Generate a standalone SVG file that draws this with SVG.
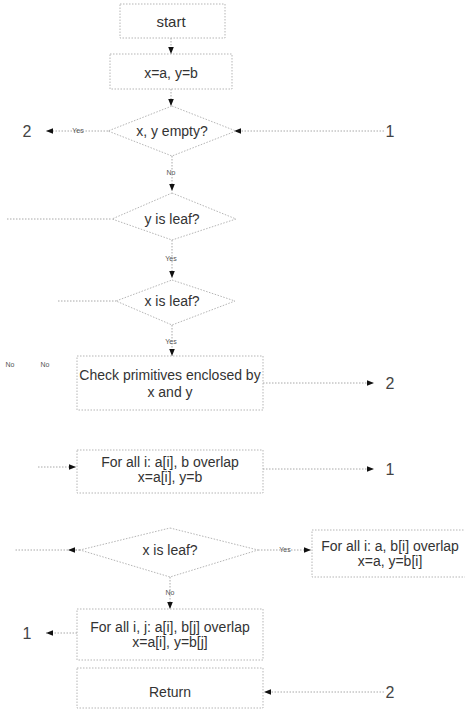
<svg xmlns="http://www.w3.org/2000/svg" width="465" height="711" viewBox="0 0 465 711">
<defs>
<marker id="ah" viewBox="0 0 10 10" refX="10" refY="5" markerWidth="7" markerHeight="7" orient="auto" markerUnits="userSpaceOnUse">
<path d="M0,1 L10,5 L0,9 Z" fill="#111"/>
</marker>
</defs>
<style>
.b{fill:none;stroke:#b5b5b5;stroke-width:1;stroke-dasharray:1.5 1.5}
.c{fill:none;stroke:#a8a8a8;stroke-width:1;stroke-dasharray:1.5 1.5}
.t{font-family:"Liberation Sans",Arial,sans-serif;font-size:14px;fill:#333;text-anchor:middle}
.n{font-family:"Liberation Sans",Arial,sans-serif;font-size:16px;fill:#444;text-anchor:middle}
.s{font-family:"Liberation Sans",Arial,sans-serif;font-size:7px;fill:#555;text-anchor:middle}
</style>
<rect width="465" height="711" fill="#fff"/>
<g id="connectors">
<line class="c" x1="171" y1="38" x2="171" y2="54" marker-end="url(#ah)"/>
<line class="c" x1="171" y1="89" x2="171" y2="106" marker-end="url(#ah)"/>
<line class="c" x1="108" y1="131" x2="46" y2="131" marker-end="url(#ah)"/>
<line class="c" x1="384" y1="131" x2="234" y2="131" marker-end="url(#ah)"/>
<line class="c" x1="172" y1="156" x2="172" y2="191" marker-end="url(#ah)"/>
<line class="c" x1="7" y1="219" x2="112" y2="219"/>
<line class="c" x1="172" y1="240" x2="172" y2="278" marker-end="url(#ah)"/>
<line class="c" x1="58" y1="301" x2="116" y2="301"/>
<line class="c" x1="172" y1="325" x2="172" y2="356" marker-end="url(#ah)"/>
<line class="c" x1="263" y1="383" x2="374" y2="383" marker-end="url(#ah)"/>
<line class="c" x1="38" y1="467" x2="76" y2="467" marker-end="url(#ah)"/>
<line class="c" x1="263" y1="469" x2="374" y2="469" marker-end="url(#ah)"/>
<line class="c" x1="80" y1="550" x2="14" y2="550"/>
<line class="c" x1="80" y1="550" x2="68" y2="550" marker-end="url(#ah)"/>
<line class="c" x1="258" y1="550" x2="311" y2="550" marker-end="url(#ah)"/>
<line class="c" x1="170" y1="577" x2="170" y2="609" marker-end="url(#ah)"/>
<line class="c" x1="77" y1="633" x2="46" y2="633" marker-end="url(#ah)"/>
<line class="c" x1="384" y1="692" x2="264" y2="692" marker-end="url(#ah)"/>
<text class="s" x="78" y="133">Yes</text>
<text class="s" x="171" y="175">No</text>
<text class="s" x="171" y="261">Yes</text>
<text class="s" x="171" y="344">Yes</text>
<text class="s" x="10" y="367">No</text>
<text class="s" x="45" y="367">No</text>
<text class="s" x="285" y="552">Yes</text>
<text class="s" x="170" y="595">No</text>
</g>
<g id="n_start">
<rect class="b" x="120" y="4" width="105" height="34"/>
<text class="t" x="171" y="27" style="font-size:15px">start</text>
</g>
<g id="n_init">
<rect class="b" x="110" y="54" width="122" height="35"/>
<text class="t" x="171" y="78">x=a, y=b</text>
</g>
<g id="n_empty">
<polygon class="b" points="172,106 236,131 172,156 108,131"/>
<text class="t" x="172" y="136">x, y empty?</text>
</g>
<g id="n_yleaf">
<polygon class="b" points="172,193 236,219 172,240 112,219"/>
<text class="t" x="172" y="224">y is leaf?</text>
</g>
<g id="n_xleaf1">
<polygon class="b" points="172,280 235,301 172,325 116,301"/>
<text class="t" x="172" y="306">x is leaf?</text>
</g>
<g id="n_check">
<rect class="b" x="77" y="356" width="186" height="54"/>
<text class="t" x="170" y="380">Check primitives enclosed by</text>
<text class="t" x="170" y="397">x and y</text>
</g>
<g id="n_forall_a">
<rect class="b" x="77" y="450" width="186" height="43"/>
<text class="t" x="170" y="467">For all i: a[i], b overlap</text>
<text class="t" x="170" y="482">x=a[i], y=b</text>
</g>
<g id="n_xleaf2">
<polygon class="b" points="170,528 258,550 170,577 80,550"/>
<text class="t" x="170" y="555">x is leaf?</text>
</g>
<g id="n_forall_b">
<rect class="b" x="312" y="530" width="160" height="47"/>
<text class="t" x="390" y="551">For all i: a, b[i] overlap</text>
<text class="t" x="390" y="566">x=a, y=b[i]</text>
</g>
<g id="n_forall_ij">
<rect class="b" x="77" y="609" width="186" height="51"/>
<text class="t" x="170" y="632">For all i, j: a[i], b[j] overlap</text>
<text class="t" x="170" y="647">x=a[i], y=b[j]</text>
</g>
<g id="n_return">
<rect class="b" x="77" y="668" width="186" height="40"/>
<text class="t" x="170" y="697">Return</text>
</g>
<g id="labels">
<text class="n" x="27" y="137">2</text>
<text class="n" x="390" y="137">1</text>
<text class="n" x="390" y="389">2</text>
<text class="n" x="390" y="475">1</text>
<text class="n" x="27" y="639">1</text>
<text class="n" x="390" y="698">2</text>
</g>
</svg>
